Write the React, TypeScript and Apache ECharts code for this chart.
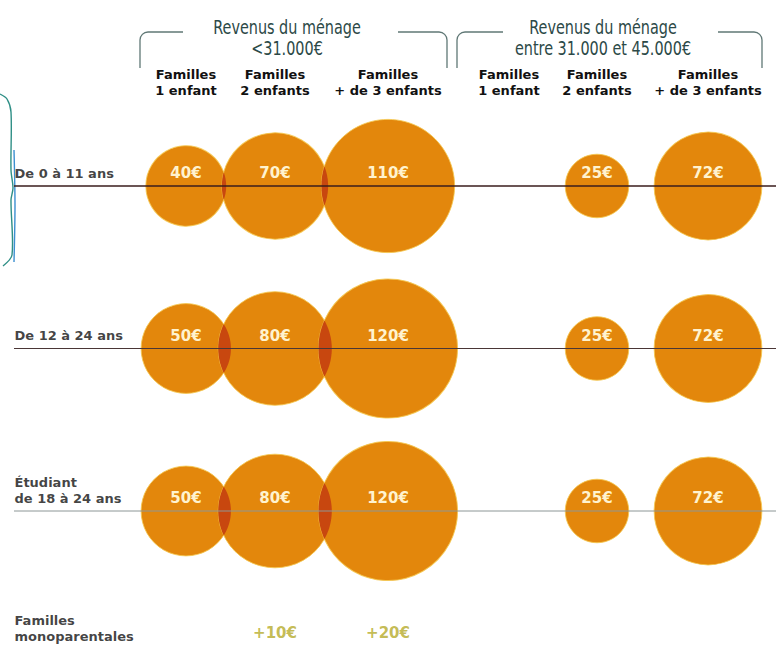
import React, { useEffect, useRef } from "react";
import * as echarts from "echarts";

// ---------- data ----------
const ROW_LABELS = [
  "De 0 à 11 ans",
  "De 12 à 24 ans",
  "Étudiant\nde 18 à 24 ans",
  "Familles\nmonoparentales",
];
const GROUP_TITLES = [
  "Revenus du ménage\n<31.000€",
  "Revenus du ménage\nentre 31.000 et 45.000€",
];
const COLUMN_LABELS = [
  "Familles\n1 enfant",
  "Familles\n2 enfants",
  "Familles\n+ de 3 enfants",
  "Familles\n1 enfant",
  "Familles\n2 enfants",
  "Familles\n+ de 3 enfants",
];
// monthly allowance (€) per column; null = none
const AGE_0_11 = [40, 70, 110, null, 25, 72];
const AGE_12_24 = [50, 80, 120, null, 25, 72];
const STUDENT_18_24 = [50, 80, 120, null, 25, 72];
const SINGLE_PARENT_BONUS = [null, 10, 20, null, null, null];

// ---------- layout ----------
const COLUMN_X = [1.72, 2.61, 3.74, 4.95, 5.83, 6.94];
const ROW_Y = [1, 2, 3, 3.75];
const X_MAX = 7.62;
const RADIUS_K = 6.35;

const ORANGE = "#E3870C";
const LENS = "#C8470F";
const FONT = '"DejaVu Sans", sans-serif';
const NARROW = '"DejaVu Sans Condensed", "Liberation Sans Narrow", sans-serif';

const radius = (v: number) => RADIUS_K * Math.sqrt(v);

export default function App() {
  const ref = useRef<HTMLDivElement>(null);

  useEffect(() => {
    if (!ref.current) return;
    const chart = echarts.init(ref.current, undefined, { renderer: "svg" });

    const rows = [AGE_0_11, AGE_12_24, STUDENT_18_24];
    const circles: any[] = [];
    const lenses: any[] = [];
    rows.forEach((vals, i) => {
      vals.forEach((v, j) => {
        if (v == null) return;
        circles.push([COLUMN_X[j], ROW_Y[i], v]);
        const nxt = vals[j + 1];
        if (j < 2 && nxt != null) {
          lenses.push([COLUMN_X[j], ROW_Y[i], v, COLUMN_X[j + 1], nxt]);
        }
      });
    });

    const bonus: any[] = [];
    SINGLE_PARENT_BONUS.forEach((v, j) => {
      if (v != null) bonus.push([COLUMN_X[j], ROW_Y[3], v]);
    });

    const lineStyles = [
      { stroke: "#3a1c1c", lineWidth: 1.6 },
      { stroke: "#4a3636", lineWidth: 1.2 },
      { stroke: "#8c9696", lineWidth: 1 },
    ];

    const rowLabelOffsets = [
      [0, -13],
      [0, -13],
      [0, -21],
      [0, -4],
    ];

    const seg = (x1: number, y1: number, x2: number, y2: number) => ({
      type: "line",
      shape: { x1, y1, x2, y2 },
      style: { stroke: "#5f7775", lineWidth: 1.3 },
      silent: true,
    });
    const arc = (cx: number, cy: number, s: number, e: number) => ({
      type: "arc",
      shape: { cx, cy, r: 8, startAngle: s, endAngle: e, clockwise: true },
      style: { stroke: "#5f7775", lineWidth: 1.3, fill: null },
      silent: true,
    });
    const bracket = (l: number, r: number, gapL: number, gapR: number) => [
      seg(l, 68, l, 40),
      arc(l + 8, 40, Math.PI, Math.PI * 1.5),
      seg(l + 8, 32, gapL, 32),
      seg(gapR, 32, r - 8, 32),
      arc(r - 8, 40, Math.PI * 1.5, Math.PI * 2),
      seg(r, 40, r, 68),
    ];
    const title = (x: number, text: string) => ({
      type: "text",
      x,
      y: 37.5,
      scaleX: 0.8,
      silent: true,
      style: {
        text,
        fill: "#2c4947",
        fontSize: 20,
        fontFamily: NARROW,
        align: "center",
        verticalAlign: "middle",
        lineHeight: 21,
      },
    });

    const option: any = {
      animation: false,
      backgroundColor: "#ffffff",
      grid: { left: 14, right: 0, top: 104.75, bottom: 6 },
      xAxis: {
        type: "value",
        position: "top",
        min: 0,
        max: X_MAX,
        axisLine: { show: false },
        axisTick: { show: false },
        splitLine: { show: false },
        axisLabel: {
          show: true,
          customValues: COLUMN_X,
          formatter: (v: number) => {
            const i = COLUMN_X.findIndex((c) => Math.abs(c - v) < 1e-3);
            return i >= 0 ? COLUMN_LABELS[i] : "";
          },
          margin: 6,
          fontSize: 13,
          fontWeight: "bold",
          lineHeight: 16,
          color: "#111",
          fontFamily: FONT,
        },
      },
      yAxis: {
        type: "value",
        inverse: true,
        min: 0.5,
        max: 3.8,
        show: false,
      },
      graphic: [
        ...bracket(140, 447, 183, 398),
        ...bracket(457, 762, 503, 718),
        title(287, GROUP_TITLES[0]),
        title(603, GROUP_TITLES[1]),
        {
          type: "polyline",
          silent: true,
          shape: {
            points: [
              [0, 94], [7, 99], [11, 112], [11, 170], [13, 188], [11, 200], [12, 255], [3, 266],
            ],
            smooth: 0.3,
          },
          style: { stroke: "#2f8f86", lineWidth: 1.4, fill: null },
        },
        {
          type: "polyline",
          silent: true,
          shape: { points: [[14, 150], [15, 205], [14, 262]], smooth: 0.3 },
          style: { stroke: "#3c8fd0", lineWidth: 1.4, fill: null },
        },
      ],
      series: [
        {
          type: "scatter",
          name: "montants",
          z: 2,
          clip: false,
          data: circles,
          symbol: "circle",
          symbolSize: (val: number[]) => 2 * radius(val[2]),
          itemStyle: {
            color: ORANGE,
            opacity: 1,
            borderColor: "rgba(244,200,80,0.85)",
            borderWidth: 1,
          },
          label: {
            show: true,
            position: "inside",
            offset: [0, -13],
            formatter: (p: any) => `${p.value[2]}€`,
            color: "#FFF3CF",
            fontSize: 15,
            fontWeight: "bold",
            fontFamily: FONT,
          },
        },
        {
          type: "custom",
          name: "chevauchement",
          z: 3,
          data: lenses,
          renderItem: (params: any, api: any) => {
            const p1 = api.coord([api.value(0), api.value(1)]);
            const p2 = api.coord([api.value(3), api.value(1)]);
            const r1 = radius(api.value(2));
            const r2 = radius(api.value(4));
            const d = p2[0] - p1[0];
            if (d >= r1 + r2 || d <= 0) return null;
            const a = (r1 * r1 - r2 * r2 + d * d) / (2 * d);
            const t1 = Math.acos(Math.max(-1, Math.min(1, a / r1)));
            const t2 = Math.acos(Math.max(-1, Math.min(1, (d - a) / r2)));
            const pts: number[][] = [];
            const N = 24;
            for (let k = 0; k <= N; k++) {
              const ang = -t1 + (2 * t1 * k) / N;
              pts.push([p1[0] + r1 * Math.cos(ang), p1[1] + r1 * Math.sin(ang)]);
            }
            for (let k = 0; k <= N; k++) {
              const ang = Math.PI - t2 + (2 * t2 * k) / N;
              pts.push([p2[0] + r2 * Math.cos(ang), p2[1] + r2 * Math.sin(ang)]);
            }
            return {
              type: "polygon",
              shape: { points: pts },
              style: { fill: LENS },
            };
          },
        },
        {
          type: "custom",
          name: "lignes",
          z: 5,
          data: ROW_Y.slice(0, 3).map((y, i) => [0, y, i]),
          renderItem: (params: any, api: any) => {
            const cs = params.coordSys;
            const p = api.coord([0, api.value(1)]);
            const st = lineStyles[api.value(2)];
            return {
              type: "line",
              shape: { x1: cs.x, y1: p[1], x2: cs.x + cs.width, y2: p[1] },
              style: { stroke: st.stroke, lineWidth: st.lineWidth },
            };
          },
        },
        {
          type: "scatter",
          name: "rangées",
          z: 6,
          clip: false,
          symbolSize: 1,
          itemStyle: { color: "rgba(0,0,0,0)" },
          data: ROW_Y.map((y, i) => ({
            value: [0, y],
            label: { offset: rowLabelOffsets[i] },
          })),
          label: {
            show: true,
            position: "right",
            distance: 0,
            align: "left",
            formatter: (p: any) => ROW_LABELS[p.dataIndex],
            color: "#111",
            fontSize: 13,
            fontWeight: "bold",
            lineHeight: 16,
            fontFamily: FONT,
          },
        },
        {
          type: "scatter",
          name: "monoparentales",
          z: 6,
          clip: false,
          symbolSize: 1,
          itemStyle: { color: "rgba(0,0,0,0)" },
          data: bonus,
          label: {
            show: true,
            position: "inside",
            formatter: (p: any) => `+${p.value[2]}€`,
            color: "#B5AA28",
            fontSize: 15,
            fontWeight: "bold",
            fontFamily: FONT,
          },
        },
      ],
    };

    chart.setOption(option);
    return () => chart.dispose();
  }, []);

  return (
    <div
      ref={ref}
      style={{ position: "fixed", left: 0, top: 0, width: 776, height: 647, background: "#fff" }}
    />
  );
}
